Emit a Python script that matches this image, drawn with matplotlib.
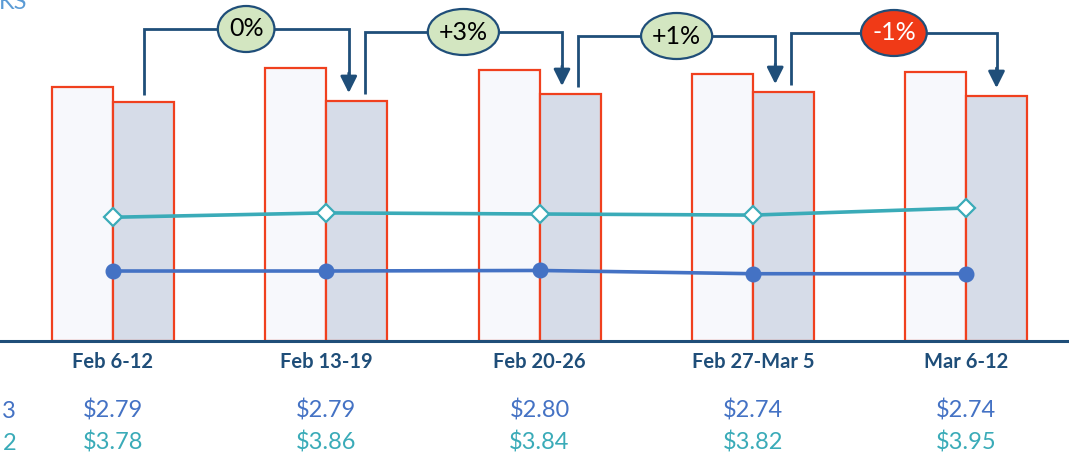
import numpy as np
import matplotlib
matplotlib.use('Agg')
import matplotlib.pyplot as plt
import matplotlib.transforms as mtransforms
from matplotlib.patches import Ellipse

plt.rcParams['font.family'] = ['Lato', 'DejaVu Sans']

# ===== data =====
weeks = ['Feb 6-12', 'Feb 13-19', 'Feb 20-26', 'Feb 27-Mar 5', 'Mar 6-12']
bar_prev = [254, 273, 271, 267, 269]      # light bars
bar_curr = [239, 240, 247, 249, 245]      # grey bars
price_2023 = [2.79, 2.79, 2.80, 2.74, 2.74]
price_2022 = [3.78, 3.86, 3.84, 3.82, 3.95]
pct_labels = ['0%', '+3%', '+1%', '-1%']
bracket_levels = [312, 309, 305, 308]

# ===== colours =====
navy = '#1F4E79'
red_edge = '#F0401E'
light_fill = '#F7F8FC'
grey_fill = '#D6DCE8'
teal = '#3AABB8'
blue = '#4472C4'
green_bub = '#D3E6C1'
red_bub = '#F03A17'

W, H = 1069, 459
fig = plt.figure(figsize=(W / 100, H / 100), dpi=100)
ax = fig.add_axes([0, 118 / H, 1, 341 / H])

n = len(weeks)
x = np.arange(n)
px = 213.25  # pixels per category
bw = 61 / px
ax.set_xlim(-113 / px, (W - 113) / px)
ax.set_ylim(0, 341)

ax.bar(x - bw / 2, bar_prev, width=bw, color=light_fill, edgecolor=red_edge, linewidth=1.6, zorder=2)
ax.bar(x + bw / 2, bar_curr, width=bw, color=grey_fill, edgecolor=red_edge, linewidth=1.6, zorder=2)

for s in ax.spines.values():
    s.set_visible(False)
ax.set_xticks([])
ax.set_yticks([])
ax.axhline(0, color=navy, linewidth=2.2, zorder=4, clip_on=False)

# ===== connectors with % change =====
renderer = fig.canvas.get_renderer()
off = 8 / px
for k in range(n - 1):
    x0 = x[k] + bw / 2 + (off if k > 0 else 0)
    x1 = x[k + 1] + bw / 2 - (off if k + 1 < n - 1 else 0)
    y0 = bar_curr[k] + 7
    y1 = bar_curr[k + 1] + 8
    yl = bracket_levels[k]
    ax.plot([x0, x0, x1, x1], [y0, yl, yl, y1 + 10], color=navy, linewidth=2.0,
            solid_joinstyle='miter', solid_capstyle='butt', zorder=5)
    ax.annotate('', xy=(x1, y1), xytext=(x1, y1 + 20),
                arrowprops=dict(arrowstyle='-|>,head_width=0.5,head_length=1.0',
                                color=navy, lw=2.0, shrinkA=0, shrinkB=0), zorder=5)
    neg = pct_labels[k].startswith('-')
    t = ax.text((x0 + x1) / 2, yl, pct_labels[k], ha='center', va='center', fontsize=18,
                color='white' if neg else 'black', zorder=7)
    tw = t.get_window_extent(renderer).width
    ax.add_patch(Ellipse(((x0 + x1) / 2, yl), (tw + 22) / px, 46,
                         facecolor=red_bub if neg else green_bub, edgecolor=navy,
                         linewidth=1.6, zorder=6))

# ===== price lines =====
ax2 = ax.twinx()
ax2.set_ylim(1.501, 7.781)
ax2.set_axis_off()
ax2.plot(x, price_2022, color=teal, linewidth=2.6, marker='D', markersize=9.5,
         markerfacecolor='white', markeredgecolor=teal, markeredgewidth=1.6, zorder=3)
ax2.plot(x, price_2023, color=blue, linewidth=2.6, marker='o', markersize=10.5,
         markerfacecolor=blue, markeredgecolor=blue, zorder=3)

# ===== labels under the axis =====
trans = mtransforms.blended_transform_factory(ax.transData, fig.transFigure)
for i in range(n):
    fig.text(x[i], (H - 362) / H, weeks[i], transform=trans, ha='center', va='center',
             fontsize=14.5, fontweight='bold', color=navy)
    fig.text(x[i], (H - 411) / H, f'${price_2023[i]:.2f}', transform=trans,
             ha='center', va='center', fontsize=17, color=blue)
    fig.text(x[i], (H - 443) / H, f'${price_2022[i]:.2f}', transform=trans,
             ha='center', va='center', fontsize=17, color=teal)

fig.text(16 / W, (H - 411) / H, '3', ha='right', va='center', fontsize=17, color=blue)
fig.text(16 / W, (H - 443) / H, '2', ha='right', va='center', fontsize=17, color=teal)
fig.text(27 / W, (H - 9) / H, 'KS', ha='right', va='baseline', fontsize=17, color='#5B9BD5')

fig.savefig('out.png', dpi=100, facecolor='white')
